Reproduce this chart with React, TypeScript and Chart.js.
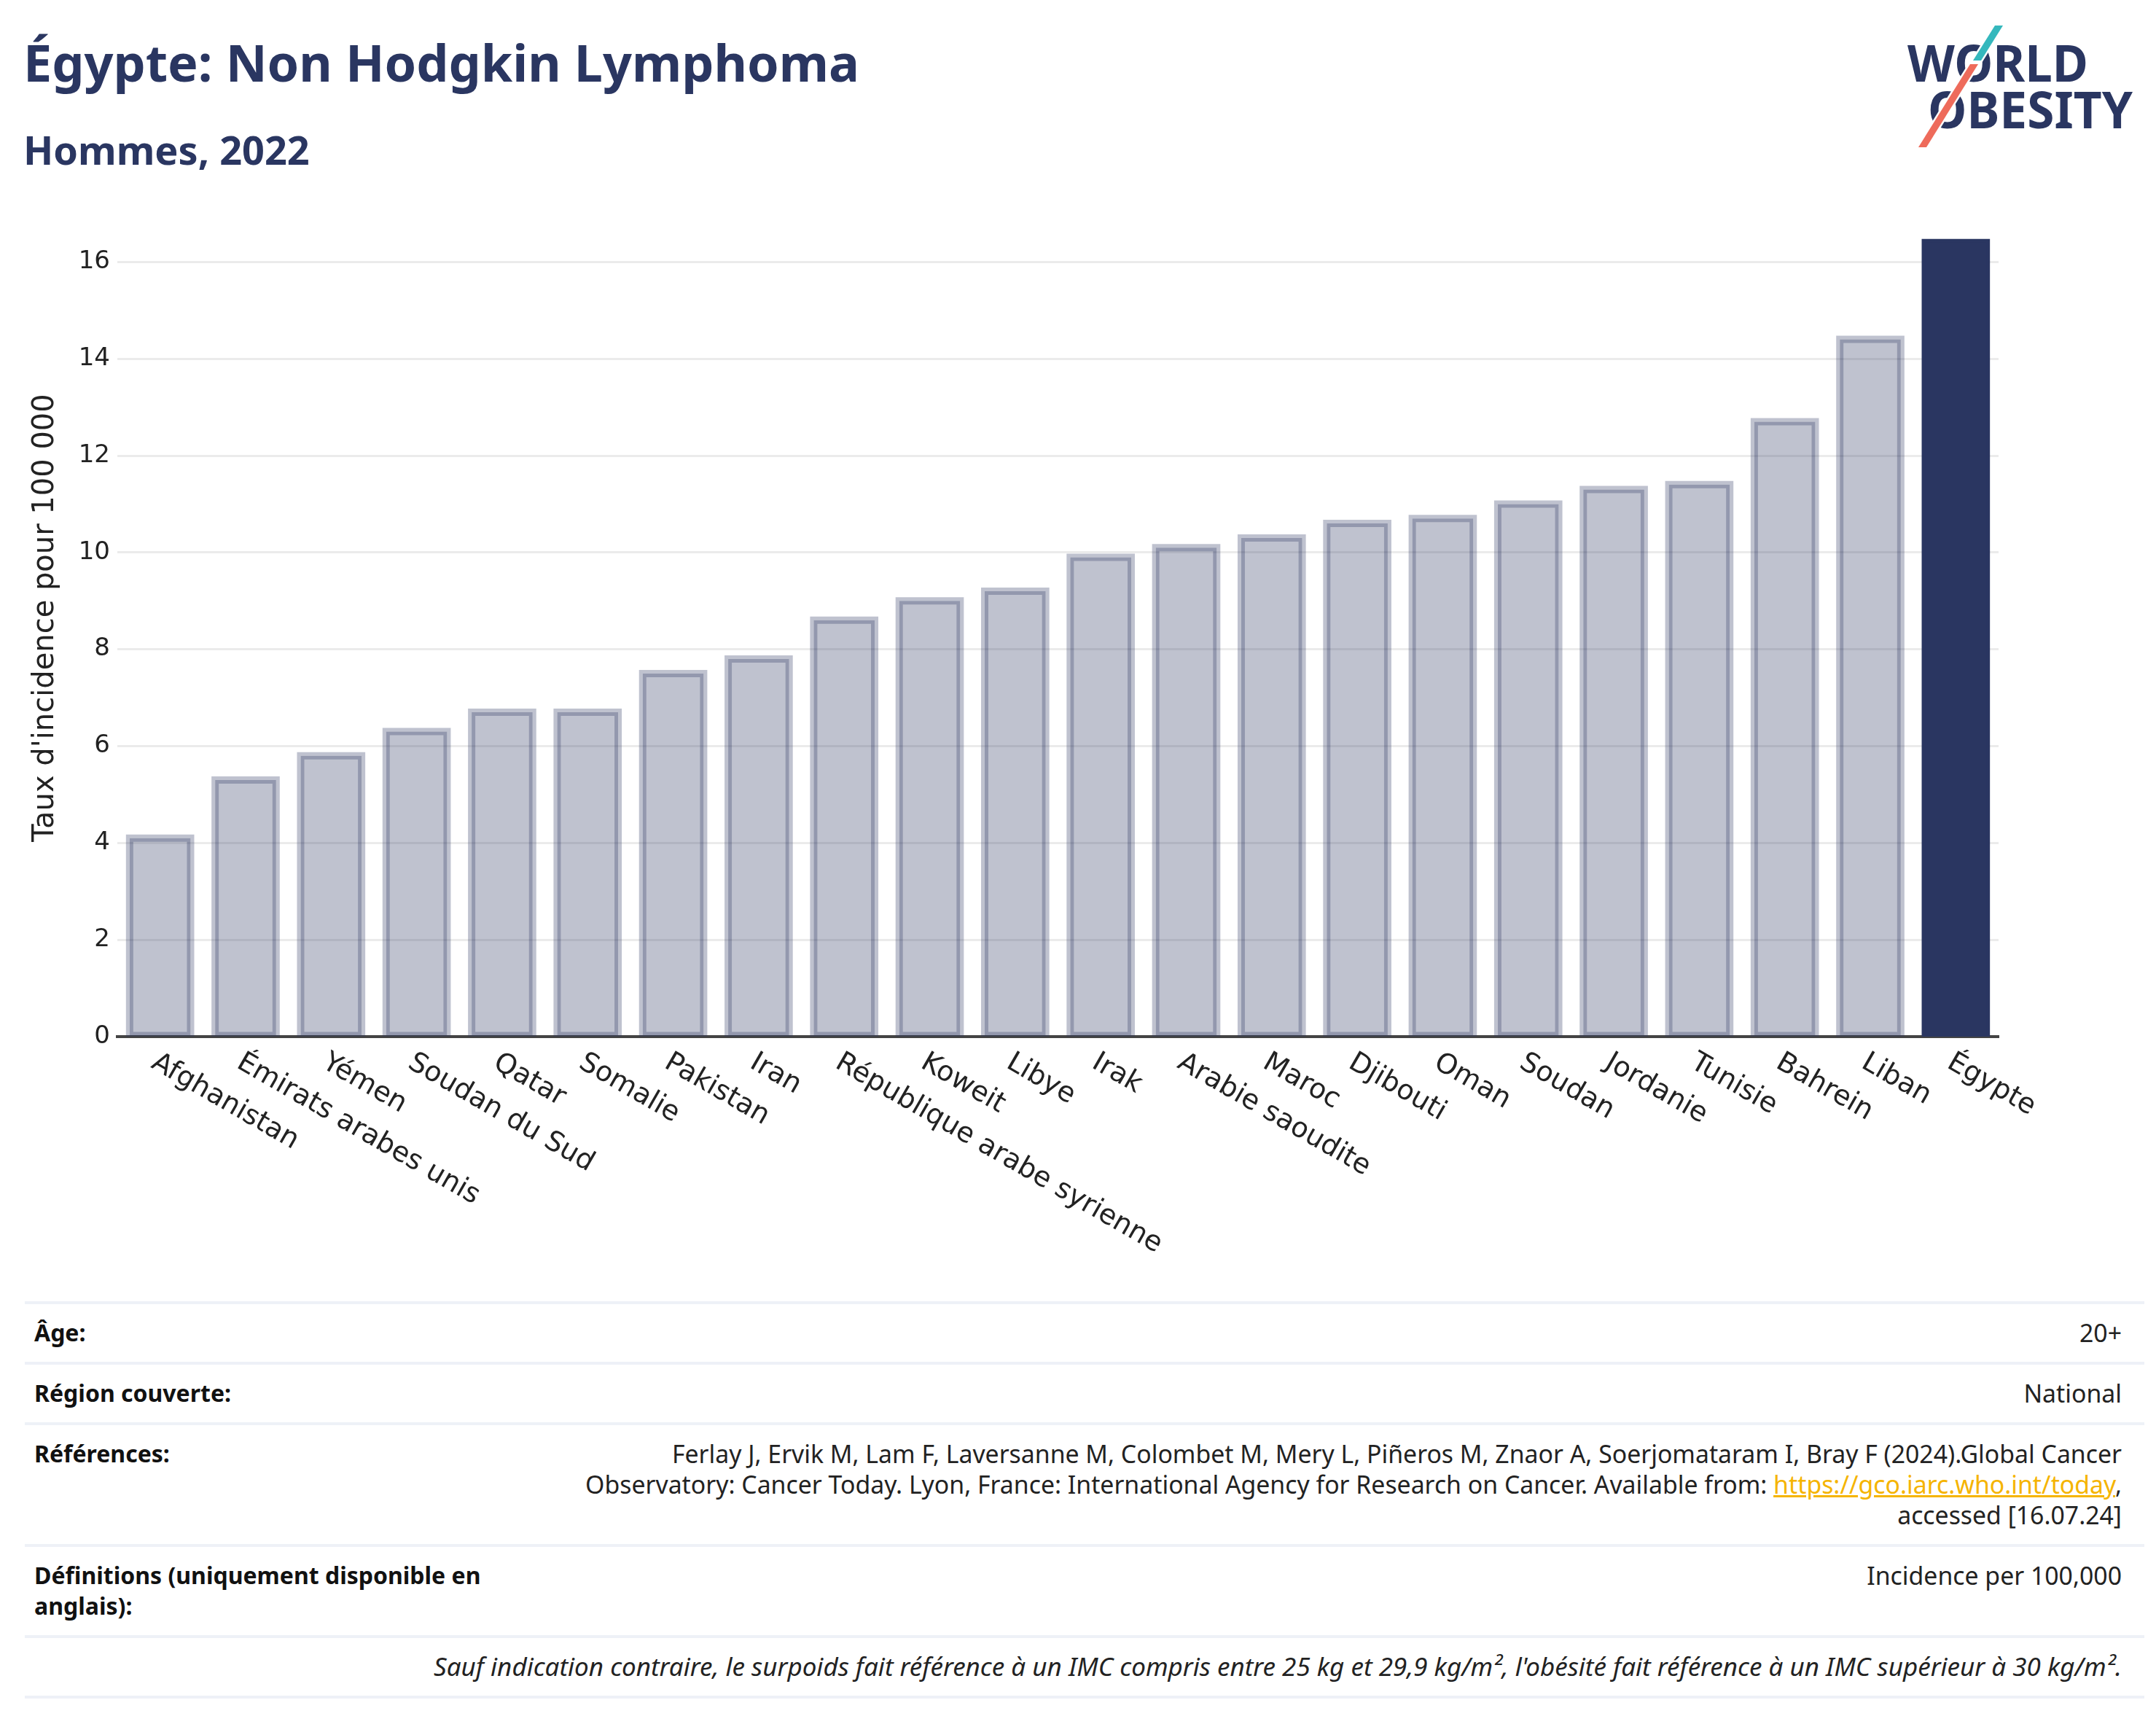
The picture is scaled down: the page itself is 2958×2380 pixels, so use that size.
import React, { useEffect, useRef } from 'react';
import { Chart, registerables } from 'chart.js';

Chart.register(...registerables);

const categories = [
  'Afghanistan', 'Émirats arabes unis', 'Yémen', 'Soudan du Sud', 'Qatar', 'Somalie',
  'Pakistan', 'Iran', 'République arabe syrienne', 'Koweit', 'Libye', 'Irak',
  'Arabie saoudite', 'Maroc', 'Djibouti', 'Oman', 'Soudan', 'Jordanie', 'Tunisie',
  'Bahrein', 'Liban', 'Égypte',
];
const values = [
  4.1, 5.3, 5.8, 6.3, 6.7, 6.7, 7.5, 7.8, 8.6, 9.0, 9.2, 9.9,
  10.1, 10.3, 10.6, 10.7, 11.0, 11.3, 11.4, 12.7, 14.4, 16.4,
];
const highlight = 'Égypte';
const yTicks = [0, 2, 4, 6, 8, 10, 12, 14, 16];
const yTitle = "Taux d'incidence pour 100 000";

const NAVY = '#2a3661';
const FILL = 'rgba(42,54,97,0.3)';
const FONT = '"Noto Sans", sans-serif';
const PLOT_FONT = '"DejaVu Sans", sans-serif';

const CANVAS_TOP = 234;
const CANVAS_W = 2958;
const CANVAS_H = 1516;

const xLabelPlugin = {
  id: 'rotatedXLabels',
  afterDraw(chart: any) {
    const { ctx, chartArea } = chart;
    const x = chart.scales.x;
    ctx.save();
    ctx.font = `38px ${PLOT_FONT}`;
    ctx.fillStyle = '#222';
    ctx.textAlign = 'left';
    ctx.textBaseline = 'middle';
    categories.forEach((label, i) => {
      const px = x.getPixelForValue(i);
      ctx.save();
      ctx.translate(px - 9, chartArea.bottom + 33);
      ctx.rotate(Math.PI / 6);
      ctx.fillText(label, 0, 0);
      ctx.restore();
    });
    ctx.restore();
  },
};

const rowBorder = '4px solid #eef1f7';

function Row(props: { label?: React.ReactNode; children: React.ReactNode; last?: boolean; italic?: boolean }) {
  return (
    <div
      style={{
        display: 'flex',
        alignItems: 'flex-start',
        borderTop: rowBorder,
        borderBottom: props.last ? rowBorder : undefined,
        padding: '18px 31px 19px 13px',
      }}
    >
      {props.label !== undefined && (
        <div style={{ width: 700, flex: '0 0 700px', fontWeight: 700, color: '#111', fontSize: 32 }}>
          {props.label}
        </div>
      )}
      <div
        style={{
          flex: 1,
          textAlign: 'right',
          color: '#222',
          fontStyle: props.italic ? 'italic' : 'normal',
          fontSize: props.italic ? 35 : 33.8,
          whiteSpace: 'nowrap',
        }}
      >
        {props.children}
      </div>
    </div>
  );
}

export default function App() {
  const ref = useRef<HTMLCanvasElement>(null);

  useEffect(() => {
    const colors = categories.map((c) => (c === highlight ? NAVY : FILL));
    const chart = new Chart(ref.current as HTMLCanvasElement, {
      type: 'bar',
      data: {
        labels: categories,
        datasets: [
          {
            data: values,
            backgroundColor: colors,
            borderWidth: 0,
            inflateAmount: 5,
            grouped: false,
            categoryPercentage: 1,
            barPercentage: 0.713,
            order: 2,
          } as any,
          {
            data: values,
            backgroundColor: 'rgba(0,0,0,0)',
            borderColor: colors,
            borderWidth: 5,
            borderSkipped: false,
            inflateAmount: 0,
            grouped: false,
            categoryPercentage: 1,
            barPercentage: 0.713,
            order: 1,
          } as any,
        ],
      },
      options: {
        responsive: false,
        animation: false,
        devicePixelRatio: 1,
        layout: { padding: { top: 39, right: 216, bottom: 320, left: 0 } },
        plugins: {
          legend: { display: false },
          tooltip: { enabled: false },
          title: { display: false },
        },
        scales: {
          x: {
            grid: { display: false },
            border: { display: true, color: '#444', width: 4 },
            ticks: { display: false },
            z: 1,
          },
          y: {
            min: 0,
            max: 17.3,
            afterBuildTicks: (s: any) => {
              s.ticks = yTicks.map((v) => ({ value: v }));
            },
            afterFit: (s: any) => {
              s.width = 161;
            },
            grid: { color: '#ebebeb', lineWidth: 3, drawTicks: false },
            border: { display: false },
            ticks: { font: { family: PLOT_FONT, size: 34 }, color: '#222', padding: 10 },
            title: {
              display: true,
              text: yTitle,
              font: { family: PLOT_FONT, size: 40 },
              color: '#222',
              padding: { top: 39, bottom: 0 },
            },
          },
        },
      } as any,
      plugins: [xLabelPlugin],
    });
    return () => chart.destroy();
  }, []);

  return (
    <div
      style={{
        position: 'relative',
        width: 2958,
        height: 2380,
        background: '#fff',
        overflow: 'hidden',
        fontFamily: FONT,
      }}
    >
      <style>{`html,body{margin:0;padding:0;background:#fff}`}</style>
      <div
        style={{
          position: 'absolute',
          left: 32,
          top: 50,
          fontSize: 70,
          lineHeight: '70px',
          fontWeight: 700,
          color: NAVY,
          whiteSpace: 'nowrap',
        }}
      >
        Égypte: Non Hodgkin Lymphoma
      </div>
      <div
        style={{
          position: 'absolute',
          left: 32,
          top: 178,
          fontSize: 54,
          lineHeight: '54px',
          fontWeight: 700,
          color: NAVY,
          whiteSpace: 'nowrap',
        }}
      >
        Hommes, 2022
      </div>

      <svg
        style={{ position: 'absolute', left: 0, top: 0, pointerEvents: 'none' }}
        width={2958}
        height={260}
        viewBox="0 0 2958 260"
      >
        <text
          x={2617}
          y={112}
          fontSize={70}
          fontWeight={700}
          fill={NAVY}
          fontFamily={FONT}
          textLength={248}
          lengthAdjust="spacingAndGlyphs"
        >
          WORLD
        </text>
        <text
          x={2645}
          y={176}
          fontSize={70}
          fontWeight={700}
          fill={NAVY}
          fontFamily={FONT}
          textLength={281}
          lengthAdjust="spacingAndGlyphs"
        >
          OBESITY
        </text>
        <polygon
          points="2737,35 2748,35 2718,83 2707,83"
          fill="#35b8bd"
          stroke="#fff"
          strokeWidth={5}
          style={{ paintOrder: 'stroke' }}
        />
        <polygon
          points="2703,88 2714,88 2643,202 2632,202"
          fill="#ee6b5b"
          stroke="#fff"
          strokeWidth={5}
          style={{ paintOrder: 'stroke' }}
        />
      </svg>

      <canvas
        ref={ref}
        width={CANVAS_W}
        height={CANVAS_H}
        style={{ position: 'absolute', left: 0, top: CANVAS_TOP, width: CANVAS_W, height: CANVAS_H }}
      />

      <div
        style={{
          position: 'absolute',
          left: 34,
          top: 1785,
          width: 2908,
          lineHeight: '42px',
        }}
      >
        <Row label="Âge:">20+</Row>
        <Row label="Région couverte:">National</Row>
        <Row label="Références:">
          Ferlay J, Ervik M, Lam F, Laversanne M, Colombet M, Mery L, Piñeros M, Znaor A, Soerjomataram I, Bray F
          (2024).Global Cancer
          <br />
          Observatory: Cancer Today. Lyon, France: International Agency for Research on Cancer. Available from:{' '}
          <a href="https://gco.iarc.who.int/today" style={{ color: '#f5b400', textDecoration: 'underline' }}>
            https://gco.iarc.who.int/today
          </a>
          ,
          <br />
          accessed [16.07.24]
        </Row>
        <Row
          label={
            <>
              Définitions (uniquement disponible en
              <br />
              anglais):
            </>
          }
        >
          Incidence per 100,000
        </Row>
        <Row last italic>
          Sauf indication contraire, le surpoids fait référence à un IMC compris entre 25 kg et 29,9 kg/m²,
          l'obésité fait référence à un IMC supérieur à 30 kg/m².
        </Row>
      </div>
    </div>
  );
}
